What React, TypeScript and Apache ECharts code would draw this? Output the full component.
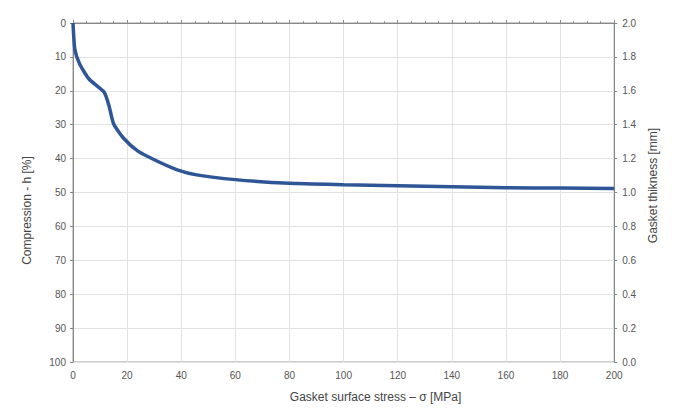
import React, { useEffect, useRef } from "react";
import * as echarts from "echarts";

const stress = [0, 0.7, 2.5, 6, 11.5, 13.3, 15, 18.7, 24, 31, 38.5, 45.7, 60, 80, 100, 120, 140, 160, 180, 200];
const compression = [0, 7.8, 12.2, 16.6, 20.4, 24.4, 29.7, 34, 37.8, 40.7, 43.3, 44.8, 46.2, 47.3, 47.7, 48, 48.3, 48.6, 48.7, 48.8];

export default function App() {
  const ref = useRef<HTMLDivElement>(null);
  useEffect(() => {
    const chart = echarts.init(ref.current!, null, { renderer: "svg" });
    const font = "'Liberation Sans', Arial, sans-serif";
    const labelStyle = { color: "#555", fontSize: 10, fontFamily: font };
    const nameStyle = { color: "#444", fontSize: 12, fontFamily: font };
    chart.setOption({
      animation: false,
      backgroundColor: "#fff",
      grid: { left: 65, right: 38, top: 15, bottom: 41, show: true, borderColor: "#999", borderWidth: 1 },
      xAxis: {
        type: "value", min: 0, max: 200, interval: 20,
        name: "Gasket surface stress – σ [MPa]", nameLocation: "middle", nameGap: 29,
        nameTextStyle: { ...nameStyle, padding: [0, 0, 0, 64] },
        axisLine: { show: true, lineStyle: { color: "#888" } },
        axisTick: { show: true, length: 3, inside: true, lineStyle: { color: "#888" } },
        minorTick: { show: true, splitNumber: 4, length: 2, lineStyle: { color: "#999" } },
        axisLabel: { ...labelStyle, margin: 8 },
        splitLine: { show: true, lineStyle: { color: "#e2e2e2" } },
      },
      yAxis: [
        {
          type: "value", min: 0, max: 100, interval: 10, inverse: true,
          name: "Compression - h [%]", nameLocation: "middle", nameGap: 40,
          nameTextStyle: { ...nameStyle, padding: [0, 36, 0, 0] },
          axisLine: { show: true, lineStyle: { color: "#888" } },
          axisTick: { show: true, length: 3, lineStyle: { color: "#888" } },
          axisLabel: { ...labelStyle, margin: 7 },
          splitLine: { show: true, lineStyle: { color: "#e2e2e2" } },
        },
        {
          type: "value", min: 0, max: 2, interval: 0.2, position: "right",
          name: "Gasket thikness [mm]", nameLocation: "middle", nameGap: 28,
          nameTextStyle: { ...nameStyle, padding: [0, 0, 0, 14] },
          axisLine: { show: true, lineStyle: { color: "#888" } },
          axisTick: { show: true, length: 3, lineStyle: { color: "#888" } },
          axisLabel: { ...labelStyle, margin: 8, formatter: (v: number) => v.toFixed(1) },
          splitLine: { show: false },
        },
      ],
      series: [
        {
          type: "line",
          yAxisIndex: 0,
          data: stress.map((s, i) => [s, compression[i]]),
          showSymbol: false,
          smooth: 0.2,
          lineStyle: { color: "#2e5596", width: 3.5 },
        },
      ],
    });
    return () => chart.dispose();
  }, []);
  return <div ref={ref} style={{ width: 659, height: 400 }} />;
}
